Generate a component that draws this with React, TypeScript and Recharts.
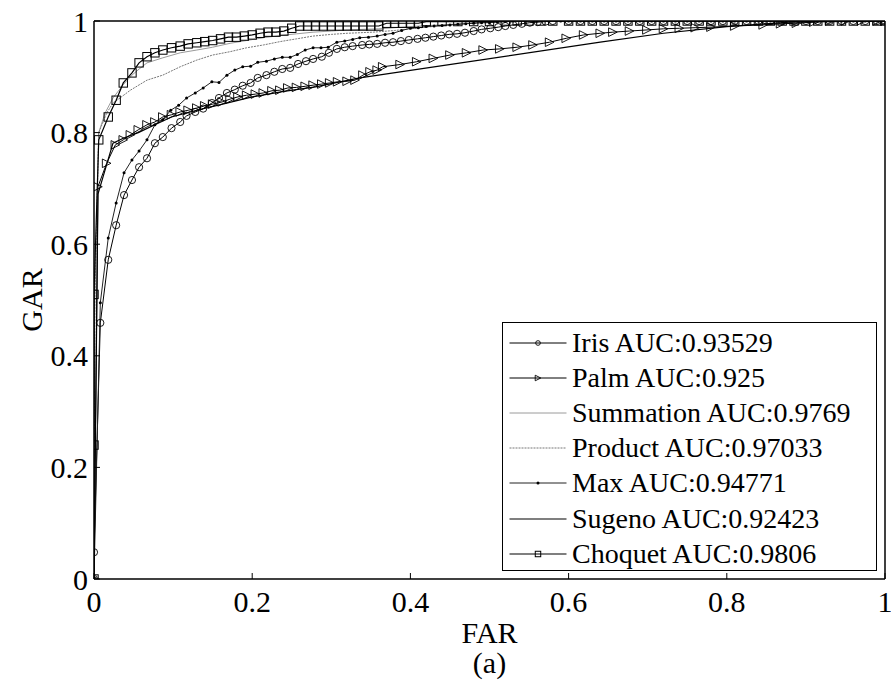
import React from 'react';
import { LineChart, Line, XAxis, YAxis, Legend } from 'recharts';

if (typeof document !== 'undefined') document.body.style.margin = '0';

const FONT = '"Liberation Serif", "Times New Roman", serif';
const TICKS = [0, 0.2, 0.4, 0.6, 0.8, 1];

type Pt = [number, number];

// flat stretch along GAR = 1 where the marked curves pile up
const TOP_X = [0.6, 0.615, 0.63, 0.645, 0.66, 0.675, 0.69, 0.705, 0.72, 0.735, 0.75, 0.765, 0.78, 0.795, 0.81, 0.825, 0.84, 0.855, 0.87, 0.885, 0.9, 0.915, 0.93, 0.945, 0.96, 0.975, 0.99, 1];

const IRIS: Pt[] = [
  [0, 0], [0, 0.048], [0.008, 0.459], [0.018, 0.572], [0.028, 0.634], [0.038, 0.688], [0.048, 0.715],
  [0.057, 0.738], [0.067, 0.754], [0.077, 0.781], [0.087, 0.792], [0.098, 0.808], [0.109, 0.819],
  [0.117, 0.83], [0.128, 0.837], [0.138, 0.843], [0.149, 0.853], [0.158, 0.862], [0.168, 0.871],
  [0.178, 0.877], [0.188, 0.884], [0.198, 0.889], [0.207, 0.898], [0.218, 0.903], [0.228, 0.909],
  [0.238, 0.914], [0.248, 0.916], [0.258, 0.923], [0.268, 0.928], [0.277, 0.932], [0.288, 0.936],
  [0.297, 0.943], [0.307, 0.95], [0.317, 0.953], [0.327, 0.955], [0.339, 0.957], [0.348, 0.958],
  [0.358, 0.959], [0.368, 0.961], [0.378, 0.962], [0.388, 0.964], [0.398, 0.966], [0.409, 0.968],
  [0.419, 0.97], [0.429, 0.972], [0.439, 0.974], [0.449, 0.976], [0.459, 0.977], [0.469, 0.979],
  [0.48, 0.982], [0.49, 0.985], [0.501, 0.987], [0.511, 0.989], [0.52, 0.991], [0.53, 0.993],
  [0.541, 0.995], [0.551, 0.997], [0.561, 0.998], [0.571, 0.999], [0.58, 1],
];

const PALM: Pt[] = [
  [0, 0], [0.005, 0.703], [0.016, 0.745], [0.027, 0.778], [0.037, 0.787], [0.046, 0.796], [0.056, 0.805],
  [0.067, 0.814], [0.077, 0.819], [0.087, 0.828], [0.098, 0.832], [0.109, 0.837], [0.119, 0.84],
  [0.13, 0.844], [0.14, 0.848], [0.15, 0.851], [0.162, 0.855], [0.172, 0.86], [0.182, 0.864],
  [0.193, 0.867], [0.204, 0.869], [0.214, 0.871], [0.225, 0.875], [0.235, 0.876], [0.245, 0.88],
  [0.256, 0.881], [0.267, 0.883], [0.277, 0.885], [0.288, 0.887], [0.298, 0.889], [0.308, 0.891],
  [0.32, 0.892], [0.33, 0.894], [0.34, 0.903], [0.349, 0.909], [0.358, 0.912], [0.365, 0.918],
  [0.387, 0.922], [0.408, 0.927], [0.429, 0.933], [0.45, 0.939], [0.471, 0.943], [0.492, 0.948],
  [0.513, 0.95], [0.535, 0.953], [0.555, 0.957], [0.576, 0.962], [0.597, 0.969], [0.619, 0.975],
  [0.64, 0.978], [0.656, 0.98], [0.677, 0.982], [0.699, 0.984], [0.72, 0.986], [0.74, 0.987],
  [0.76, 0.988], [0.78, 0.989], [0.81, 0.991], [0.846, 0.993], [0.868, 0.995], [0.888, 0.996],
  [0.91, 0.998], [0.93, 1], [0.95, 1], [0.97, 1], [0.99, 1], [1, 1],
];

const SUMMATION: Pt[] = [
  [0, 0], [0.001, 0.5], [0.006, 0.8], [0.014, 0.835], [0.024, 0.862], [0.037, 0.886], [0.048, 0.903],
  [0.058, 0.915], [0.067, 0.925], [0.087, 0.934], [0.109, 0.943], [0.13, 0.948], [0.15, 0.953],
  [0.172, 0.96], [0.193, 0.965], [0.214, 0.97], [0.235, 0.974], [0.256, 0.977], [0.277, 0.98],
  [0.3, 0.982], [0.32, 0.984], [0.36, 0.986], [0.4, 0.99], [0.45, 0.994], [0.5, 0.998], [0.55, 1], [1, 1],
];

const PRODUCT: Pt[] = [
  [0, 0], [0.001, 0.5], [0.006, 0.8], [0.016, 0.835], [0.024, 0.853], [0.029, 0.858], [0.046, 0.876],
  [0.067, 0.894], [0.087, 0.903], [0.109, 0.918], [0.13, 0.93], [0.15, 0.939], [0.172, 0.945],
  [0.193, 0.952], [0.214, 0.957], [0.235, 0.963], [0.256, 0.968], [0.277, 0.973], [0.3, 0.976],
  [0.32, 0.978], [0.353, 0.98], [0.38, 0.983], [0.42, 0.989], [0.467, 0.995], [0.52, 0.999], [0.54, 1], [1, 1],
];

const MAX: Pt[] = [
  [0, 0], [0.008, 0.495], [0.018, 0.611], [0.028, 0.674], [0.038, 0.728], [0.048, 0.751], [0.057, 0.767],
  [0.067, 0.787], [0.077, 0.814], [0.087, 0.823], [0.097, 0.84], [0.107, 0.849], [0.117, 0.862],
  [0.128, 0.871], [0.138, 0.88], [0.149, 0.891], [0.158, 0.89], [0.168, 0.903], [0.178, 0.912],
  [0.188, 0.918], [0.198, 0.919], [0.207, 0.926], [0.218, 0.928], [0.228, 0.932], [0.238, 0.935],
  [0.248, 0.935], [0.257, 0.94], [0.267, 0.948], [0.277, 0.952], [0.287, 0.952], [0.296, 0.953],
  [0.307, 0.962], [0.317, 0.964], [0.327, 0.967], [0.336, 0.97], [0.347, 0.971], [0.358, 0.973],
  [0.368, 0.976], [0.378, 0.978], [0.389, 0.983], [0.4, 0.987], [0.41, 0.988], [0.42, 0.99],
  [0.43, 0.991], [0.44, 0.992], [0.45, 0.993], [0.46, 0.994], [0.47, 0.995], [0.48, 0.996],
  [0.49, 0.997], [0.5, 0.997], [0.51, 0.998], [0.52, 0.999], [0.53, 1], [0.545, 1], [0.56, 1],
  [0.575, 1], [0.59, 1],
];

const SUGENO: Pt[] = [
  [0, 0], [0.005, 0.69], [0.024, 0.781], [0.037, 0.79], [0.056, 0.8], [0.077, 0.814], [0.098, 0.828],
  [0.13, 0.84], [0.16, 0.85], [0.2, 0.864], [0.24, 0.874], [0.28, 0.882], [0.336, 0.898],
  [0.64, 0.962], [0.72, 0.978], [0.8, 0.99], [0.88, 0.998], [1, 1],
];

const CHOQUET: Pt[] = [
  [0, 0], [0, 0.24], [0, 0.51], [0.006, 0.787], [0.018, 0.828], [0.028, 0.858], [0.037, 0.889],
  [0.048, 0.907], [0.057, 0.925], [0.067, 0.936], [0.077, 0.943], [0.087, 0.948], [0.098, 0.952],
  [0.109, 0.955], [0.119, 0.959], [0.13, 0.961], [0.14, 0.963], [0.15, 0.965], [0.16, 0.968],
  [0.17, 0.971], [0.18, 0.971], [0.19, 0.973], [0.2, 0.975], [0.21, 0.978], [0.22, 0.98],
  [0.23, 0.98], [0.24, 0.982], [0.25, 0.987], [0.26, 0.991], [0.27, 0.991], [0.28, 0.991],
  [0.29, 0.991], [0.3, 0.991], [0.31, 0.991], [0.32, 0.991], [0.33, 0.991], [0.34, 0.991],
  [0.35, 0.991], [0.36, 0.991], [0.37, 0.996], [0.38, 0.996], [0.39, 0.996], [0.4, 0.996],
  [0.41, 0.996], [0.42, 0.999], [0.44, 0.999], [0.46, 0.999], [0.48, 0.999], [0.5, 0.999],
  [0.52, 1], [0.535, 1], [0.55, 1], [0.565, 1], [0.58, 1],
];

type MarkerKind = 'circle' | 'tri' | 'square' | 'dot' | null;

const withTop = (pts: Pt[]): Pt[] => [...pts, ...TOP_X.map((x): Pt => [x, 1])];
const toData = (pts: Pt[]) => pts.map(([x, y]) => ({ x, y }));

const SERIES: { name: string; pts: Pt[]; color: string; width: number; dash?: string; marker: MarkerKind }[] = [
  { name: 'Iris AUC:0.93529', pts: withTop(IRIS), color: '#000', width: 1, marker: 'circle' },
  { name: 'Palm AUC:0.925', pts: PALM, color: '#000', width: 1, marker: 'tri' },
  { name: 'Summation AUC:0.9769', pts: SUMMATION, color: '#9a9a9a', width: 1, marker: null },
  { name: 'Product AUC:0.97033', pts: PRODUCT, color: '#777', width: 1, dash: '2 1', marker: null },
  { name: 'Max AUC:0.94771', pts: withTop(MAX), color: '#222', width: 1, marker: 'dot' },
  { name: 'Sugeno AUC:0.92423', pts: SUGENO, color: '#000', width: 1.2, marker: null },
  { name: 'Choquet AUC:0.9806', pts: withTop(CHOQUET), color: '#000', width: 1.2, marker: 'square' },
];

function Marker({ kind, cx, cy, small }: { kind: MarkerKind; cx: number; cy: number; small?: boolean }) {
  if (cx == null || cy == null) return null;
  const k = small ? 0.65 : 1;
  if (kind === 'circle') return <circle cx={cx} cy={cy} r={3.6 * k} fill="none" stroke="#000" strokeWidth={0.9} />;
  if (kind === 'tri') {
    const h = 4.3 * k;
    return <path d={`M${cx + h},${cy}L${cx - h},${cy - h}L${cx - h},${cy + h}Z`} fill="none" stroke="#000" strokeWidth={0.9} />;
  }
  if (kind === 'square') {
    const h = 4.2 * k;
    return <rect x={cx - h} y={cy - h} width={2 * h} height={2 * h} fill="none" stroke="#000" strokeWidth={1} />;
  }
  if (kind === 'dot') return <circle cx={cx} cy={cy} r={1.5} fill="#000" />;
  return null;
}

function LegendBox() {
  return (
    <div style={{ width: 375, height: 249, border: '1.5px solid #000', boxSizing: 'border-box', background: '#fff', paddingTop: 2, fontFamily: FONT }}>
      {SERIES.map((s) => (
        <div key={s.name} style={{ display: 'flex', alignItems: 'center', height: 35.2 }}>
          <svg width={69} height={20} style={{ flex: 'none' }}>
            <line x1={6.5} x2={63.5} y1={10} y2={10} stroke={s.color} strokeWidth={s.width} strokeDasharray={s.dash} />
            {s.marker && <Marker kind={s.marker} cx={35} cy={10} small />}
          </svg>
          <span style={{ fontSize: 28, lineHeight: 1, color: '#000', whiteSpace: 'nowrap' }}>{s.name}</span>
        </div>
      ))}
    </div>
  );
}

const axisLine = { stroke: '#000', strokeWidth: 1.5 };
const tickStyle = { fill: '#000', fontSize: 30, fontFamily: FONT };
const labelStyle = { position: 'absolute' as const, textAlign: 'center' as const, fontSize: 30, lineHeight: '30px', width: 200 };

export default function App() {
  return (
    <div style={{ position: 'relative', width: 891, height: 692, background: '#fff', fontFamily: FONT }}>
      <LineChart width={891} height={692} margin={{ top: 20, right: 5, bottom: 73, left: 14 }}>
        <XAxis
          type="number"
          dataKey="x"
          domain={[0, 1]}
          ticks={TICKS}
          interval={0}
          allowDataOverflow
          height={40}
          tickSize={-6}
          tickMargin={18}
          axisLine={axisLine}
          tickLine={{ stroke: '#000' }}
          tick={tickStyle}
        />
        <XAxis
          xAxisId="top"
          orientation="top"
          type="number"
          dataKey="x"
          domain={[0, 1]}
          ticks={TICKS}
          interval={0}
          allowDataOverflow
          height={1}
          tickSize={-6}
          axisLine={axisLine}
          tickLine={{ stroke: '#000' }}
          tick={false}
        />
        <YAxis
          type="number"
          domain={[0, 1]}
          ticks={TICKS}
          interval={0}
          allowDataOverflow
          width={80}
          tickSize={-6}
          tickMargin={12}
          axisLine={axisLine}
          tickLine={{ stroke: '#000' }}
          tick={tickStyle}
        />
        <YAxis
          yAxisId="right"
          orientation="right"
          type="number"
          domain={[0, 1]}
          ticks={TICKS}
          interval={0}
          allowDataOverflow
          width={1}
          tickSize={-6}
          axisLine={axisLine}
          tickLine={{ stroke: '#000' }}
          tick={false}
        />
        {SERIES.map((s) => (
          <Line
            key={s.name}
            data={toData(s.pts)}
            dataKey="y"
            name={s.name}
            type="linear"
            stroke={s.color}
            strokeWidth={s.width}
            strokeDasharray={s.dash}
            dot={
              s.marker
                ? (p: any) => <Marker key={`${s.name}-${p.index}`} kind={s.marker} cx={p.cx} cy={p.cy} />
                : false
            }
            activeDot={false}
            isAnimationActive={false}
          />
        ))}
        <Legend
          layout="vertical"
          align="center"
          verticalAlign="middle"
          content={() => <LegendBox />}
          wrapperStyle={{ left: 502, top: 322, width: 375, height: 249 }}
        />
      </LineChart>
      <div style={{ ...labelStyle, left: 389.5, top: 618 }}>FAR</div>
      <div style={{ ...labelStyle, left: 389.5, top: 648 }}>(a)</div>
      <div style={{ ...labelStyle, left: -68, top: 285, height: 30, transform: 'rotate(-90deg)' }}>GAR</div>
    </div>
  );
}
